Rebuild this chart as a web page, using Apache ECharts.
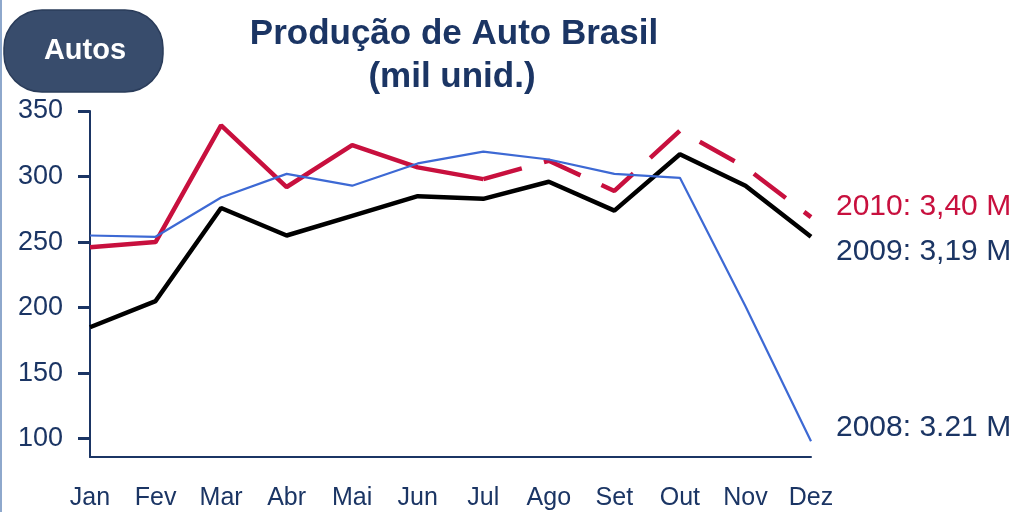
<!DOCTYPE html>
<html>
<head>
<meta charset="utf-8">
<script src="https://cdn.jsdelivr.net/npm/echarts@6/dist/echarts.min.js"></script>
<style>
  html, body { margin: 0; padding: 0; background: #fff; }
  #main { width: 1017px; height: 512px; }
</style>
</head>
<body>
<div id="main"></div>
<script>
// meses e producao mensal (mil unidades)
var months = ['Jan', 'Fev', 'Mar', 'Abr', 'Mai', 'Jun', 'Jul', 'Ago', 'Set', 'Out', 'Nov', 'Dez'];
var prod2008 = [255, 254, 284, 302, 293, 310, 319, 313, 302, 299, 201, 98];
var prod2009 = [185, 205, 276, 255, 270, 285, 283, 296, 274, 317, 293, 254];
var prod2010 = [246, 250, 339, 292, 324, 307, 298, null, null, null, null, null];
var proj2010 = [null, null, null, null, null, null, 298, 312, 289, 335, 307, 269];
var yTicks = [100, 150, 200, 250, 300, 350];

var navy = '#1b3564';
var red = '#c8103e';
var font = '"Liberation Sans", Arial, sans-serif';

var chart = echarts.init(document.getElementById('main'), null, { renderer: 'canvas' });

var option = {
    backgroundColor: '#fff',
    animation: false,
    grid: { left: 90, right: 206, top: 111, bottom: 55 },
    xAxis: {
        type: 'category',
        data: months,
        boundaryGap: false,
        axisLine: { lineStyle: { color: navy, width: 2 } },
        axisTick: { show: false },
        axisLabel: { color: navy, fontSize: 25, fontFamily: font, margin: 29 }
    },
    yAxis: {
        type: 'value',
        min: 86,
        max: 350,
        splitLine: { show: false },
        axisLine: { show: true, lineStyle: { color: navy, width: 2 } },
        axisTick: { show: true, customValues: yTicks, length: 12, lineStyle: { color: navy, width: 3 } },
        axisLabel: { customValues: yTicks, color: navy, fontSize: 27, fontFamily: font, margin: 27 }
    },
    series: [
        {
            name: '2010',
            type: 'line',
            data: prod2010,
            symbol: 'none',
            lineStyle: { color: red, width: 4.5 }
        },
        {
            name: '2010 proj',
            type: 'line',
            data: proj2010,
            symbol: 'none',
            lineStyle: { color: red, width: 4.5, type: [40, 23] }
        },
        {
            name: '2009',
            type: 'line',
            data: prod2009,
            symbol: 'none',
            lineStyle: { color: '#000', width: 4.5 }
        },
        {
            name: '2008',
            type: 'line',
            data: prod2008,
            symbol: 'none',
            lineStyle: { color: '#3d69d4', width: 2.2 }
        }
    ],
    graphic: [
        {
            type: 'line',
            shape: { x1: 1, y1: 0, x2: 1, y2: 512 },
            style: { stroke: '#8ea8cc', lineWidth: 2 }
        },
        {
            type: 'rect',
            shape: { x: 4, y: 10, width: 159, height: 82, r: 38 },
            style: { fill: '#384c6c', stroke: '#2a3c5a', lineWidth: 1.5 }
        },
        {
            type: 'text',
            x: 85, y: 51,
            style: { text: 'Autos', fill: '#fff', font: 'bold 29px ' + font, textAlign: 'center', textVerticalAlign: 'middle' }
        },
        {
            type: 'text',
            x: 454, y: 34,
            style: { text: 'Produção de Auto Brasil', fill: navy, font: 'bold 35px ' + font, textAlign: 'center', textVerticalAlign: 'middle' }
        },
        {
            type: 'text',
            x: 452, y: 77,
            style: { text: '(mil unid.)', fill: navy, font: 'bold 35px ' + font, textAlign: 'center', textVerticalAlign: 'middle' }
        },
        {
            type: 'text',
            x: 836, y: 207,
            style: { text: '2010: 3,40 M', fill: red, font: '30px ' + font, textVerticalAlign: 'middle' }
        },
        {
            type: 'text',
            x: 836, y: 252,
            style: { text: '2009: 3,19 M', fill: navy, font: '30px ' + font, textVerticalAlign: 'middle' }
        },
        {
            type: 'text',
            x: 836, y: 428,
            style: { text: '2008: 3.21 M', fill: navy, font: '30px ' + font, textVerticalAlign: 'middle' }
        }
    ]
};

chart.setOption(option);
</script>
</body>
</html>
